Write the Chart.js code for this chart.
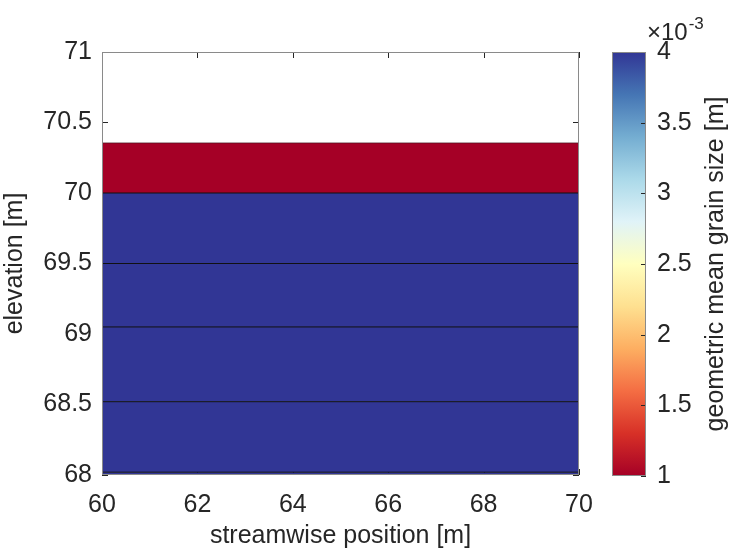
<!DOCTYPE html>
<html>
<head>
<meta charset="utf-8">
<script src="https://cdn.jsdelivr.net/npm/chart.js@4.4.1/dist/chart.umd.min.js"></script>
<style>
  html, body { margin: 0; padding: 0; background: #fff; }
  #wrap { position: relative; width: 729px; height: 549px; overflow: hidden; }
  #wrap canvas { position: absolute; left: 0; top: 0; }
</style>
</head>
<body>
<div id="wrap">
  <canvas id="profileChart" width="729" height="549"></canvas>
  <canvas id="colorbarChart" width="729" height="549"></canvas>
</div>
<script>
// streamwise extent of the section [m]
var positions = [60, 70];
// elevation of each layer top, bed surface first [m]
var layerTops = [70.355, 70.0, 69.5, 69.05, 68.52, 68.02];
// geometric mean grain size of the layer under each top [m]
var layerGrainSize = [0.001, 0.004, 0.004, 0.004, 0.004, 0.004];
// lowest layer carries on below the plotted range
var bedBase = 67.8;

var xTicks = [60, 62, 64, 66, 68, 70];
var yTicks = [68, 68.5, 69, 69.5, 70, 70.5, 71];
var cbarTicks = [1, 1.5, 2, 2.5, 3, 3.5, 4];
var cbarExponent = -3;

var textColor = '#262626';
var fontFamily = '"Liberation Sans", Arial, Helvetica, sans-serif';
var labelSize = 25;

// RdYlBu colour map, low to high
var rdylbu = ['#a50026', '#d73027', '#f46d43', '#fdae61', '#fee090', '#ffffbf',
              '#e0f3f8', '#abd9e9', '#74add1', '#4575b4', '#313695'];

function hexToRgb(h) {
    return [parseInt(h.substr(1, 2), 16), parseInt(h.substr(3, 2), 16), parseInt(h.substr(5, 2), 16)];
}

function grainColor(d) {
    var v = d / Math.pow(10, cbarExponent);
    var lo = cbarTicks[0], hi = cbarTicks[cbarTicks.length - 1];
    var t = Math.min(1, Math.max(0, (v - lo) / (hi - lo))) * (rdylbu.length - 1);
    var i = Math.min(rdylbu.length - 2, Math.floor(t));
    var f = t - i;
    var a = hexToRgb(rdylbu[i]), b = hexToRgb(rdylbu[i + 1]);
    var c = a.map(function (x, k) { return Math.round(x + (b[k] - x) * f); });
    return 'rgb(' + c.join(',') + ')';
}

function plainLabel(value) {
    return String(value);
}

Chart.defaults.font.family = fontFamily;
Chart.defaults.color = textColor;

// small inward tick marks, MATLAB style
function drawInnerTicks(ctx, chart, len) {
    var area = chart.chartArea;
    ctx.save();
    ctx.strokeStyle = textColor;
    ctx.lineWidth = 1;
    ctx.beginPath();
    Object.keys(chart.scales).forEach(function (id) {
        var s = chart.scales[id];
        if (!s.options.display) return;
        s.ticks.forEach(function (t) {
            var p = Math.round(s.getPixelForValue(t.value)) + 0.5;
            if (s.isHorizontal()) {
                ctx.moveTo(p, area.bottom); ctx.lineTo(p, area.bottom - len);
                ctx.moveTo(p, area.top); ctx.lineTo(p, area.top + len);
            } else {
                ctx.moveTo(area.left, p); ctx.lineTo(area.left + len, p);
                ctx.moveTo(area.right, p); ctx.lineTo(area.right - len, p);
            }
        });
    });
    ctx.stroke();
    ctx.restore();
}

function drawBox(ctx, area) {
    ctx.save();
    ctx.strokeStyle = '#8a8a8a';
    ctx.lineWidth = 1;
    ctx.strokeRect(Math.round(area.left) + 0.5, Math.round(area.top) + 0.5,
                   Math.round(area.right - area.left) - 1, Math.round(area.bottom - area.top) - 1);
    ctx.restore();
}

var profileDatasets = layerTops.map(function (top, i) {
    return {
        data: positions.map(function (x) { return { x: x, y: top }; }),
        borderColor: i === 0 ? 'rgba(70,20,30,0.7)' : '#111',
        borderWidth: 1,
        backgroundColor: grainColor(layerGrainSize[i]),
        fill: '+1',
        pointRadius: 0,
        tension: 0
    };
});
profileDatasets.push({
    data: positions.map(function (x) { return { x: x, y: bedBase }; }),
    borderWidth: 0,
    fill: false,
    pointRadius: 0
});

new Chart(document.getElementById('profileChart'), {
    type: 'line',
    data: { datasets: profileDatasets },
    options: {
        responsive: false,
        animation: false,
        events: [],
        layout: { padding: { left: 0, top: 52, right: 150, bottom: 0 } },
        plugins: {
            legend: { display: false },
            tooltip: { enabled: false },
            filler: { drawTime: 'beforeDatasetsDraw' }
        },
        scales: {
            x: {
                type: 'linear',
                min: positions[0],
                max: positions[positions.length - 1],
                afterBuildTicks: function (s) { s.ticks = xTicks.map(function (v) { return { value: v }; }); },
                afterFit: function (s) { s.height = 74; },
                grid: { display: false, drawTicks: false },
                border: { display: false },
                ticks: { font: { size: labelSize }, padding: 15, maxRotation: 0, callback: plainLabel },
                title: { display: true, text: 'streamwise position [m]', font: { size: labelSize, lineHeight: 1 }, padding: { top: 0, bottom: 0 } }
            },
            y: {
                type: 'linear',
                min: yTicks[0],
                max: yTicks[yTicks.length - 1],
                afterBuildTicks: function (s) { s.ticks = yTicks.map(function (v) { return { value: v }; }); },
                afterFit: function (s) { s.width = 102; },
                grid: { display: false, drawTicks: false },
                border: { display: false },
                ticks: { font: { size: labelSize }, padding: 10, callback: plainLabel },
                title: { display: true, text: 'elevation [m]', font: { size: labelSize, lineHeight: 1.2 }, padding: { top: 0, bottom: 9 } }
            }
        }
    },
    plugins: [{
        id: 'axesFrame',
        beforeDraw: function (chart) { drawInnerTicks(chart.ctx, chart, 6); },
        afterDraw: function (chart) { drawBox(chart.ctx, chart.chartArea); }
    }]
});

// colour bar: one floating bar spanning the colour range
new Chart(document.getElementById('colorbarChart'), {
    type: 'bar',
    data: {
        labels: ['d'],
        datasets: [{
            data: [[cbarTicks[0], cbarTicks[cbarTicks.length - 1]]],
            backgroundColor: function (c) {
                var area = c.chart.chartArea;
                if (!area) return rdylbu[0];
                var g = c.chart.ctx.createLinearGradient(0, area.bottom, 0, area.top);
                rdylbu.forEach(function (col, i) { g.addColorStop(i / (rdylbu.length - 1), col); });
                return g;
            },
            borderWidth: 0,
            barPercentage: 1,
            categoryPercentage: 1
        }]
    },
    options: {
        responsive: false,
        animation: false,
        events: [],
        layout: { padding: { left: 612, top: 52, right: 0, bottom: 73 } },
        plugins: { legend: { display: false }, tooltip: { enabled: false } },
        scales: {
            x: { display: false },
            y: {
                position: 'right',
                min: cbarTicks[0],
                max: cbarTicks[cbarTicks.length - 1],
                afterBuildTicks: function (s) { s.ticks = cbarTicks.map(function (v) { return { value: v }; }); },
                afterFit: function (s) { s.width = 83; },
                grid: { display: false, drawTicks: false },
                border: { display: false },
                ticks: { font: { size: labelSize }, padding: 11, callback: plainLabel }
            }
        }
    },
    plugins: [{
        id: 'colorbarFrame',
        afterDraw: function (chart) {
            var ctx = chart.ctx, area = chart.chartArea;
            var y = chart.scales.y;
            ctx.save();
            ctx.strokeStyle = textColor;
            ctx.lineWidth = 1;
            ctx.beginPath();
            y.ticks.forEach(function (t) {
                var p = Math.round(y.getPixelForValue(t.value)) + 0.5;
                ctx.moveTo(area.right, p); ctx.lineTo(area.right - 5, p);
            });
            ctx.stroke();
            ctx.restore();
            drawBox(ctx, area);

            // exponent label above the bar
            ctx.save();
            ctx.fillStyle = textColor;
            ctx.textBaseline = 'alphabetic';
            ctx.textAlign = 'left';
            ctx.font = '24px ' + fontFamily;
            var base = '\u00d710';
            ctx.fillText(base, 647, 40);
            var w = ctx.measureText(base).width;
            ctx.font = '17px ' + fontFamily;
            ctx.fillText(String(cbarExponent), 647 + w + 1, 29);
            ctx.restore();

            // colour bar title, reading upward
            ctx.save();
            ctx.fillStyle = textColor;
            ctx.font = '25px ' + fontFamily;
            ctx.textAlign = 'center';
            ctx.textBaseline = 'middle';
            ctx.translate(716, (area.top + area.bottom) / 2);
            ctx.rotate(-Math.PI / 2);
            ctx.fillText('geometric mean grain size [m]', 0, 0);
            ctx.restore();
        }
    }]
});
</script>
</body>
</html>
